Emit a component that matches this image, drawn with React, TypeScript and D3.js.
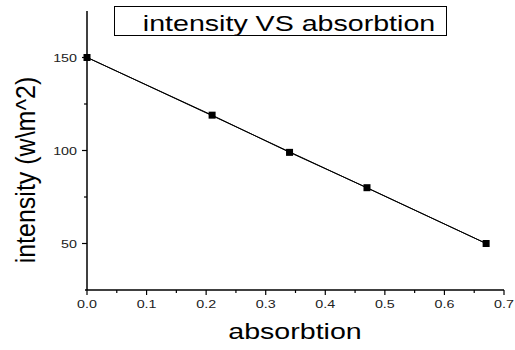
import React from "react";
import * as d3 from "d3";

const absorption = [0, 0.21, 0.34, 0.47, 0.67];
const intensity = [150, 119, 99, 80, 50];
const xTicks = [0, 0.1, 0.2, 0.3, 0.4, 0.5, 0.6, 0.7];
const xMinor = [0.05, 0.15, 0.25, 0.35, 0.45, 0.55, 0.65];
const yTicks = [50, 100, 150];
const yMinor = [75, 125];
const title = "intensity VS absorbtion";
const xLabel = "absorbtion";
const yLabel = "intensity (w\\m^2)";

const SX = 1.3;

function SText(props: { x: number; y: number; anchor: string; size: number; fill?: string; children: React.ReactNode }) {
  return (
    <text
      transform={`translate(${props.x},${props.y}) scale(${SX},1)`}
      textAnchor={props.anchor}
      fontSize={props.size}
      fill={props.fill || "#000"}
    >
      {props.children}
    </text>
  );
}

export default function App() {
  const W = 515, H = 350;
  const x = d3.scaleLinear().domain([0, 0.7]).range([87, 504]);
  const y = d3.scaleLinear().domain([25, 175]).range([290, 11]);
  const pts = absorption.map((a, i) => [a, intensity[i]] as [number, number]);
  const line = d3.line<[number, number]>().x(d => x(d[0])).y(d => y(d[1]));
  // least squares fit
  const mx = d3.mean(absorption)!, my = d3.mean(intensity)!;
  const sxy = d3.sum(pts, d => (d[0] - mx) * (d[1] - my));
  const sxx = d3.sum(pts, d => (d[0] - mx) ** 2);
  const slope = sxy / sxx, icpt = my - slope * mx;
  const fit: [number, number][] = [
    [absorption[0], icpt + slope * absorption[0]],
    [absorption[absorption.length - 1], icpt + slope * absorption[absorption.length - 1]],
  ];
  const font = "'Liberation Sans', Arial, sans-serif";
  return (
    <svg width={W} height={H} style={{ position: "absolute", left: 0, top: 0 }} fontFamily={font}>
      <rect width={W} height={H} fill="#fff" />
      {/* title box */}
      <rect x={114.5} y={6.5} width={332} height={29} fill="none" stroke="#000" strokeWidth={1} />
      <SText x={289} y={31} anchor="middle" size={22}>{title}</SText>
      {/* axes */}
      <line x1={x(0)} x2={x(0)} y1={y(25)} y2={y(175)} stroke="#000" strokeWidth={1.5} />
      <line x1={x(0) - 2} x2={x(0.7)} y1={y(25)} y2={y(25)} stroke="#000" strokeWidth={1.5} />
      {xTicks.map(t => (
        <g key={"xt" + t}>
          <line x1={x(t)} x2={x(t)} y1={y(25)} y2={y(25) + 5} stroke="#000" strokeWidth={1.2} />
          <SText x={x(t)} y={y(25) + 18} anchor="middle" size={11} fill="#222">{t.toFixed(1)}</SText>
        </g>
      ))}
      {xMinor.map(t => (
        <line key={"xm" + t} x1={x(t)} x2={x(t)} y1={y(25)} y2={y(25) + 3} stroke="#000" strokeWidth={1.2} />
      ))}
      {yTicks.map(t => (
        <g key={"yt" + t}>
          <line x1={x(0) - 5} x2={x(0)} y1={y(t)} y2={y(t)} stroke="#000" strokeWidth={1.2} />
          <SText x={x(0) - 10} y={y(t) + 4} anchor="end" size={11} fill="#222">{t}</SText>
        </g>
      ))}
      {yMinor.map(t => (
        <line key={"ym" + t} x1={x(0) - 3} x2={x(0)} y1={y(t)} y2={y(t)} stroke="#000" strokeWidth={1.2} />
      ))}
      {/* fit and data lines */}
      <path d={line(fit)!} fill="none" stroke="#000" strokeWidth={1} />
      <path d={line(pts)!} fill="none" stroke="#000" strokeWidth={1} />
      {pts.map((d, i) => (
        <rect key={i} x={x(d[0]) - 3.5} y={y(d[1]) - 3.5} width={7} height={7} fill="#000" />
      ))}
      <SText x={295} y={339} anchor="middle" size={22}>{xLabel}</SText>
      <text transform="translate(35,170) rotate(-90) scale(1,1.1)" textAnchor="middle" fontSize={25} fill="#000">{yLabel}</text>
    </svg>
  );
}
